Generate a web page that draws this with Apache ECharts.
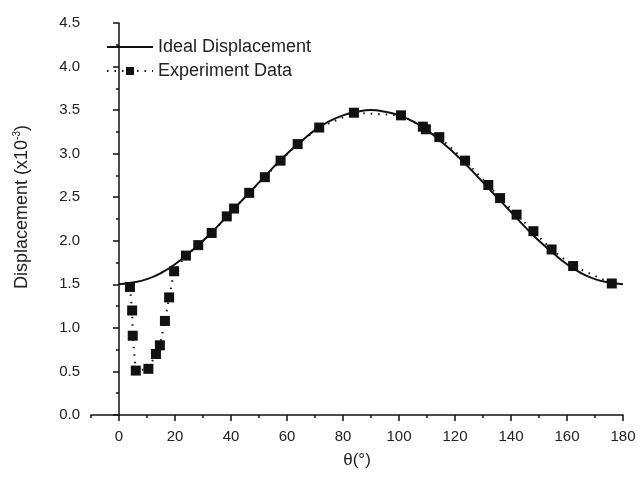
<!DOCTYPE html>
<html>
<head>
<meta charset="utf-8">
<script src="https://cdn.jsdelivr.net/npm/echarts@6/dist/echarts.min.js"></script>
<style>
  html, body { margin: 0; padding: 0; background: #fff; }
  #chart { width: 641px; height: 480px; }
</style>
</head>
<body>
<div id="chart"></div>
<script>
// Ideal displacement curve, every 5 degrees
var idealTheta = [0, 5, 10, 15, 20, 25, 30, 35, 40, 45, 50, 55, 60, 65, 70, 75, 80, 85, 90,
  95, 100, 105, 110, 115, 120, 125, 130, 135, 140, 145, 150, 155, 160, 165, 170, 175, 180];
var idealValue = [1.50, 1.52, 1.56, 1.63, 1.73, 1.86, 2.00, 2.16, 2.33, 2.50, 2.67, 2.84, 3.00, 3.14, 3.27, 3.37, 3.44, 3.48, 3.50,
  3.48, 3.44, 3.37, 3.27, 3.14, 3.00, 2.84, 2.67, 2.50, 2.33, 2.16, 2.00, 1.86, 1.73, 1.63, 1.56, 1.52, 1.50];

// Experiment data (squares)
var expTheta = [3.9, 4.7, 4.9, 6.0, 10.5, 13.2, 14.6, 16.4, 17.9, 19.7, 23.9, 28.3, 33.1, 38.5, 41.1, 46.5,
  52.1, 57.7, 63.8, 71.5, 83.9, 100.7, 108.5, 109.6, 114.4, 123.6, 131.9, 136.1, 142.0, 148.0, 154.5, 162.2, 176.0];
var expValue = [1.47, 1.20, 0.91, 0.51, 0.53, 0.70, 0.80, 1.08, 1.35, 1.65, 1.83, 1.95, 2.09, 2.28, 2.37, 2.55,
  2.73, 2.92, 3.11, 3.30, 3.47, 3.44, 3.31, 3.28, 3.19, 2.92, 2.64, 2.49, 2.30, 2.11, 1.90, 1.71, 1.51];

// tick positions
var xMajorTicks = [0, 20, 40, 60, 80, 100, 120, 140, 160, 180];
var xMinorTicks = [-10, 10, 30, 50, 70, 90, 110, 130, 150, 170];

var ink = "#111";
var textColor = "#222";
var font = "Liberation Sans";

function pairs(xs, ys) {
  return xs.map(function (x, i) { return [x, ys[i]]; });
}

var chart = echarts.init(document.getElementById("chart"));

var option = {
  backgroundColor: "#fff",
  animation: false,
  textStyle: { fontFamily: font },
  grid: { left: 91, right: 18, top: 23, bottom: 65 },
  legend: {
    orient: "vertical",
    left: 101,
    top: 33,
    itemWidth: 46,
    itemHeight: 10,
    itemGap: 6,
    textStyle: { color: textColor, fontSize: 18, fontFamily: font },
    data: [
      { name: "Ideal Displacement", itemStyle: { opacity: 0 } },
      "Experiment Data"
    ]
  },
  xAxis: [
    {
      type: "value",
      min: -10,
      max: 180,
      name: "θ(°)",
      nameLocation: "middle",
      nameGap: 37,
      nameTextStyle: { color: textColor, fontSize: 17, fontFamily: font },
      axisLine: { show: true, lineStyle: { color: ink, width: 1.5 } },
      axisTick: { show: true, length: 6, customValues: xMajorTicks, lineStyle: { color: ink, width: 1.5 } },
      axisLabel: { color: textColor, fontSize: 15, margin: 14, customValues: xMajorTicks },
      splitLine: { show: false }
    },
    {
      type: "value",
      min: -10,
      max: 180,
      position: "bottom",
      axisLine: { show: false },
      axisTick: { show: true, length: 3, customValues: xMinorTicks, lineStyle: { color: ink, width: 1.5 } },
      axisLabel: { show: false },
      splitLine: { show: false }
    }
  ],
  yAxis: {
    type: "value",
    min: 0,
    max: 4.5,
    interval: 0.5,
    name: "{a|Displacement (x10}{s|-3}{a|)}",
    nameLocation: "middle",
    nameGap: 59,
    nameRotate: 90,
    nameTextStyle: {
      padding: [0, 0, 0, 24],
      rich: {
        a: { color: textColor, fontSize: 18, fontFamily: font },
        s: { color: textColor, fontSize: 10, fontFamily: font, verticalAlign: "top", padding: [0, 0, 10, 0] }
      }
    },
    axisLine: { show: true, lineStyle: { color: ink, width: 1.5 } },
    axisTick: { show: true, length: 6, lineStyle: { color: ink, width: 1.5 } },
    minorTick: { show: true, splitNumber: 2, length: 3, lineStyle: { color: ink, width: 1.5 } },
    axisLabel: {
      color: textColor,
      fontSize: 15,
      margin: 11,
      formatter: function (v) { return v.toFixed(1); }
    },
    splitLine: { show: false }
  },
  series: [
    {
      name: "Ideal Displacement",
      type: "line",
      xAxisIndex: 0,
      data: pairs(idealTheta, idealValue),
      smooth: true,
      symbol: "none",
      itemStyle: { color: ink },
      lineStyle: { color: ink, width: 2 },
      z: 2
    },
    {
      name: "Experiment Data",
      type: "line",
      xAxisIndex: 0,
      data: pairs(expTheta, expValue),
      symbol: "rect",
      symbolSize: 10,
      itemStyle: { color: ink },
      lineStyle: { color: ink, width: 2, type: [1.5, 6] },
      z: 3
    }
  ]
};

chart.setOption(option);
</script>
</body>
</html>
